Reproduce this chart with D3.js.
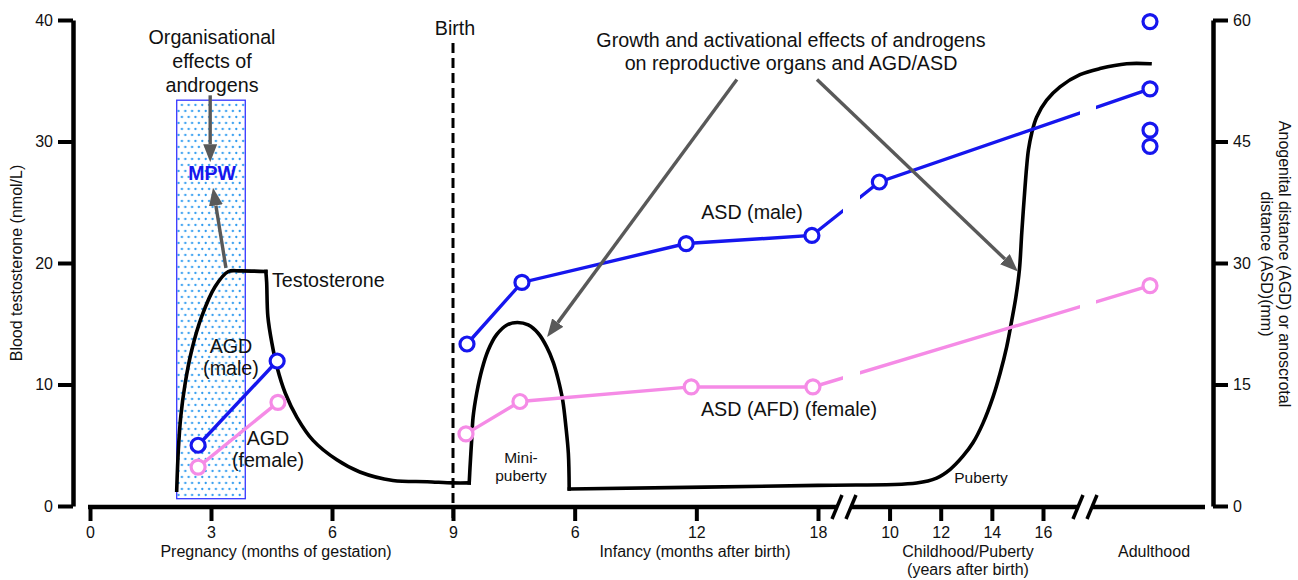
<!DOCTYPE html>
<html>
<head>
<meta charset="utf-8">
<script src="https://cdn.jsdelivr.net/npm/d3@7"></script>
<style>
  body { margin: 0; background: #fff; }
  text { font-family: "Liberation Sans", Arial, sans-serif; fill: #111; }
</style>
</head>
<body>
<svg id="chart" width="1298" height="580"></svg>
<script>
// --- data ---
// testosterone (nmol/L), drawn as four pieces
// first three: [months relative to birth (negative = gestation), value]
const testoRise = [[-6.85,1.3],[-6.81,4.6],[-6.75,7.35],[-6.64,10.1],[-6.48,12.8],[-6.23,15.6],[-5.9,18.05],[-5.57,19.3],[-5.28,19.35],[-4.64,19.3]];
const testoFall = [[-4.64,19.3],[-4.62,18.4],[-4.59,15.6],[-4.49,13.4],[-4.36,11.4],[-4.16,9.3],[-3.87,7.3],[-3.47,5.4],[-2.88,3.8],[-2.31,2.8],[-1.49,2.1],[-0.64,2.0],[0,1.9],[0.8,1.9]];
const testoMini = [[0.8,1.9],[0.84,3.2],[0.92,5.4],[0.99,7.3],[1.17,9.3],[1.42,11.2],[1.73,12.8],[2.15,14.1],[2.66,14.9],[3.17,15.1],[3.71,14.9],[4.21,14.2],[4.62,13.1],[4.95,11.8],[5.19,10.4],[5.41,8.7],[5.57,6.5],[5.69,4.3],[5.73,1.4]];
// last piece: [years after birth, value]
const testoPuberty = [[0.478,1.4],[1.5,1.7],[11.06,1.9],[11.84,2.3],[12.36,3.0],[12.87,4.1],[13.26,5.2],[13.65,6.8],[14.05,9.0],[14.32,10.9],[14.58,13.1],[14.78,15.3],[14.94,17.2],[15.08,19.5],[15.17,22.5],[15.26,25.2],[15.36,27.9],[15.43,29.3],[15.56,30.7],[15.75,32.0],[16.31,33.4],[17.43,34.5],[19.11,35.5],[20.79,36.0],[23.04,36.4],[25,36.4]];

// AGD / ASD (mm)
const agdMale = [[2.68,7.5],[4.64,17.9]];        // months of gestation
const agdFemale = [[2.68,4.8],[4.66,12.8]];
const asdMaleInfancy = [[0.69,20.0],[3.4,27.6],[11.5,32.4],[17.7,33.4]]; // months after birth
const asdMaleLater = [[9.6,40.0],[25,51.5]];     // years after birth
const asdFemaleInfancy = [[0.64,8.9],[3.3,12.9],[11.75,14.7],[17.75,14.7]];
const asdFemaleLater = [[25,27.2]];
const adultAge = 25;                             // years, the "Adulthood" column
const asdMaleAdultExtra = [59.8, 46.4, 44.4];

// masculinisation programming window (months of gestation) and its height (nmol/L)
const mpwWindow = [2.15, 3.85];
const mpwSpan = [0.6, 33.4];

// tick labels
const gestTicks = [0, 3, 6, 9];
const infTicks = [6, 12, 18];
const childTicks = [10, 12, 14, 16];
const leftTicks = [0, 10, 20, 30, 40];
const rightTicks = [0, 15, 30, 45, 60];

// --- conversions to a common age axis (months relative to birth) ---
const fromGest = m => m - 9;
const fromMonths = m => m;
const fromYears = y => y * 12;

const svg = d3.select("#chart");

const x = d3.scaleLinear()
  .domain([-9, 0, 18, 108, 192, 300])
  .range([90, 453, 818, 864, 1043, 1150]);
const yL = d3.scaleLinear().domain([0, 40]).range([506, 20]);
const yR = d3.scaleLinear().domain([0, 60]).range([506, 20]);

const blue = "#1616ee", pink = "#f58be6", grey = "#595959";
const axisBreaks = [844, 1085];

const defs = svg.append("defs");
const pat = defs.append("pattern").attr("id", "dots")
  .attr("patternUnits", "userSpaceOnUse").attr("width", 6.8).attr("height", 12);
pat.append("rect").attr("width", 6.8).attr("height", 12).attr("fill", "#fff");
pat.append("circle").attr("cx", 1.7).attr("cy", 3).attr("r", 1.15).attr("fill", "#2e9bf0");
pat.append("circle").attr("cx", 5.1).attr("cy", 9).attr("r", 1.15).attr("fill", "#2e9bf0");

defs.append("marker").attr("id", "head")
  .attr("markerUnits", "userSpaceOnUse")
  .attr("viewBox", "0 0 18 14").attr("refX", 0).attr("refY", 7)
  .attr("markerWidth", 18).attr("markerHeight", 14).attr("orient", "auto")
  .append("path").attr("d", "M0,0L18,7L0,14Z").attr("fill", grey);

// gaps in the ASD lines where the time axis is broken
const clip = defs.append("clipPath").attr("id", "gaps");
[[0, 843], [860, 1080], [1096, 1298]].forEach(r =>
  clip.append("rect").attr("x", r[0]).attr("y", 0).attr("width", r[1] - r[0]).attr("height", 580));

// MPW box
svg.append("rect")
  .attr("x", x(fromGest(mpwWindow[0])))
  .attr("y", yL(mpwSpan[1]))
  .attr("width", x(fromGest(mpwWindow[1])) - x(fromGest(mpwWindow[0])))
  .attr("height", yL(mpwSpan[0]) - yL(mpwSpan[1]))
  .attr("fill", "url(#dots)").attr("stroke", "#3535ff").attr("stroke-width", 1.3);

// testosterone curve
const tLine = d3.line().x(d => x(d[0])).y(d => yL(d[1])).curve(d3.curveCatmullRom.alpha(0.5));
const testoPieces = [testoRise, testoFall, testoMini, testoPuberty.map(d => [fromYears(d[0]), d[1]])];
svg.selectAll(null).data(testoPieces).enter().append("path")
  .attr("d", tLine)
  .attr("fill", "none").attr("stroke", "#000").attr("stroke-width", 3.6)
  .attr("stroke-linecap", "square");

// birth line
svg.append("line")
  .attr("x1", x(0)).attr("x2", x(0)).attr("y1", 43).attr("y2", 520)
  .attr("stroke", "#000").attr("stroke-width", 3).attr("stroke-dasharray", "10,5");

// distance series
const series = [
  { pts: agdMale.map(d => [fromGest(d[0]), d[1]]), color: blue },
  { pts: agdFemale.map(d => [fromGest(d[0]), d[1]]), color: pink },
  { pts: [...asdMaleInfancy.map(d => [fromMonths(d[0]), d[1]]), ...asdMaleLater.map(d => [fromYears(d[0]), d[1]])], color: blue },
  { pts: [...asdFemaleInfancy.map(d => [fromMonths(d[0]), d[1]]), ...asdFemaleLater.map(d => [fromYears(d[0]), d[1]])], color: pink }
];
const rLine = d3.line().x(d => x(d[0])).y(d => yR(d[1]));
series.forEach(s => {
  svg.append("path").datum(s.pts).attr("d", rLine)
    .attr("clip-path", "url(#gaps)")
    .attr("fill", "none").attr("stroke", s.color).attr("stroke-width", 3.4);
  svg.selectAll(null).data(s.pts).enter().append("circle")
    .attr("cx", d => x(d[0])).attr("cy", d => yR(d[1])).attr("r", 7)
    .attr("fill", "#fff").attr("stroke", s.color).attr("stroke-width", 3.2);
});
svg.selectAll(null).data(asdMaleAdultExtra).enter().append("circle")
  .attr("cx", x(fromYears(adultAge))).attr("cy", d => yR(d)).attr("r", 7)
  .attr("fill", "#fff").attr("stroke", blue).attr("stroke-width", 3.2);

// annotation arrows (positions in axis units: age months, nmol/L)
const arrows = [
  { from: [fromGest(2.98), 33.8], to: [fromGest(2.98), 28.3] },
  { from: [fromGest(3.37), 19.6], to: [fromGest(3.05), 26.2] },
  { from: [fromMonths(14.0), 35.1], to: [fromMonths(4.64), 13.9] },
  { from: [fromMonths(17.95), 35.1], to: [fromYears(15.02), 19.3] }
];
arrows.forEach(a => {
  const x1 = x(a.from[0]), y1 = yL(a.from[1]), x2 = x(a.to[0]), y2 = yL(a.to[1]);
  const len = Math.hypot(x2 - x1, y2 - y1), k = (len - 18) / len;
  svg.append("line")
    .attr("x1", x1).attr("y1", y1)
    .attr("x2", x1 + (x2 - x1) * k).attr("y2", y1 + (y2 - y1) * k)
    .attr("stroke", grey).attr("stroke-width", 3.4).attr("marker-end", "url(#head)");
});

// texts
function label(lines, px, py, opts = {}) {
  const t = svg.append("text")
    .attr("text-anchor", opts.anchor || "middle")
    .attr("font-size", opts.size || 19.7)
    .attr("font-weight", opts.weight || "normal");
  if (opts.color) t.style("fill", opts.color);
  lines.forEach((s, i) => t.append("tspan").attr("x", px).attr("y", py + i * (opts.lh || 24)).text(s));
}
label(["Organisational", "effects of", "androgens"], 212, 44);
label(["MPW"], 212, 180, { weight: "bold", size: 19.5, color: blue });
label(["Testosterone"], 272, 287, { anchor: "start" });
label(["AGD", "(male)"], 231, 353, { lh: 22 });
label(["AGD", "(female)"], 268, 445, { lh: 22 });
label(["Birth"], 455, 35);
label(["Growth and activational effects of androgens", "on reproductive organs and AGD/ASD"], 791, 47, { lh: 23 });
label(["ASD (male)"], 752, 219);
label(["ASD (AFD) (female)"], 789, 416);
label(["Mini-", "puberty"], 521, 463, { size: 15.5, lh: 18 });
label(["Puberty"], 981, 483, { size: 15.5 });
label(["Pregnancy (months of gestation)"], 276, 557, { size: 16 });
label(["Infancy (months after birth)"], 695, 557, { size: 16 });
label(["Childhood/Puberty", "(years after birth)"], 968, 557, { size: 16, lh: 18 });
label(["Adulthood"], 1154, 557, { size: 16 });

svg.append("text").attr("transform", "translate(22,263) rotate(-90)")
  .attr("text-anchor", "middle").attr("font-size", 16).text("Blood testosterone (nmol/L)");
svg.append("text").attr("transform", "translate(1279,264) rotate(90)")
  .attr("text-anchor", "middle").attr("font-size", 16).text("Anogenital distance (AGD) or anoscrotal");
svg.append("text").attr("transform", "translate(1261,264) rotate(90)")
  .attr("text-anchor", "middle").attr("font-size", 16).text("distance (ASD)(mm)");

// axes
function styleAxis(g) {
  g.selectAll("path.domain").attr("stroke", "#000").attr("stroke-width", 4.5);
  g.selectAll(".tick line").attr("stroke", "#000").attr("stroke-width", 4);
  g.selectAll(".tick text").attr("font-size", 16).attr("font-family", null).style("fill", "#111");
}
svg.append("g").attr("transform", "translate(73,0)")
  .call(d3.axisLeft(yL).tickValues(leftTicks).tickSize(15).tickSizeOuter(0).tickPadding(5))
  .call(styleAxis);
svg.append("g").attr("transform", "translate(1213,0)")
  .call(d3.axisRight(yR).tickValues(rightTicks).tickSize(15).tickSizeOuter(0).tickPadding(5))
  .call(styleAxis);

const bottomTicks = [
  ...gestTicks.map(v => ({ age: fromGest(v), lab: v })),
  ...infTicks.map(v => ({ age: fromMonths(v), lab: v })),
  ...childTicks.map(v => ({ age: fromYears(v), lab: v }))
];
const labOf = new Map(bottomTicks.map(d => [d.age, d.lab]));
const gx = svg.append("g").attr("transform", "translate(0,507)")
  .call(d3.axisBottom(x).tickValues(bottomTicks.map(d => d.age)).tickFormat(d => labOf.get(d))
    .tickSize(14).tickSizeOuter(0).tickPadding(6))
  .call(styleAxis);
gx.select("path.domain").remove();
const segs = [[88, axisBreaks[0] - 6], [axisBreaks[0] + 7, axisBreaks[1] - 6], [axisBreaks[1] + 7, 1205]];
gx.selectAll("line.seg").data(segs).enter().append("line").attr("class", "seg")
  .attr("x1", d => d[0]).attr("x2", d => d[1]).attr("y1", 0).attr("y2", 0)
  .attr("stroke", "#000").attr("stroke-width", 4.5);
axisBreaks.forEach(c => {
  [-7, 7].forEach(o => {
    gx.append("line")
      .attr("x1", c + o - 5).attr("y1", 12).attr("x2", c + o + 5).attr("y2", -12)
      .attr("stroke", "#000").attr("stroke-width", 3.5);
  });
});
</script>
</body>
</html>
